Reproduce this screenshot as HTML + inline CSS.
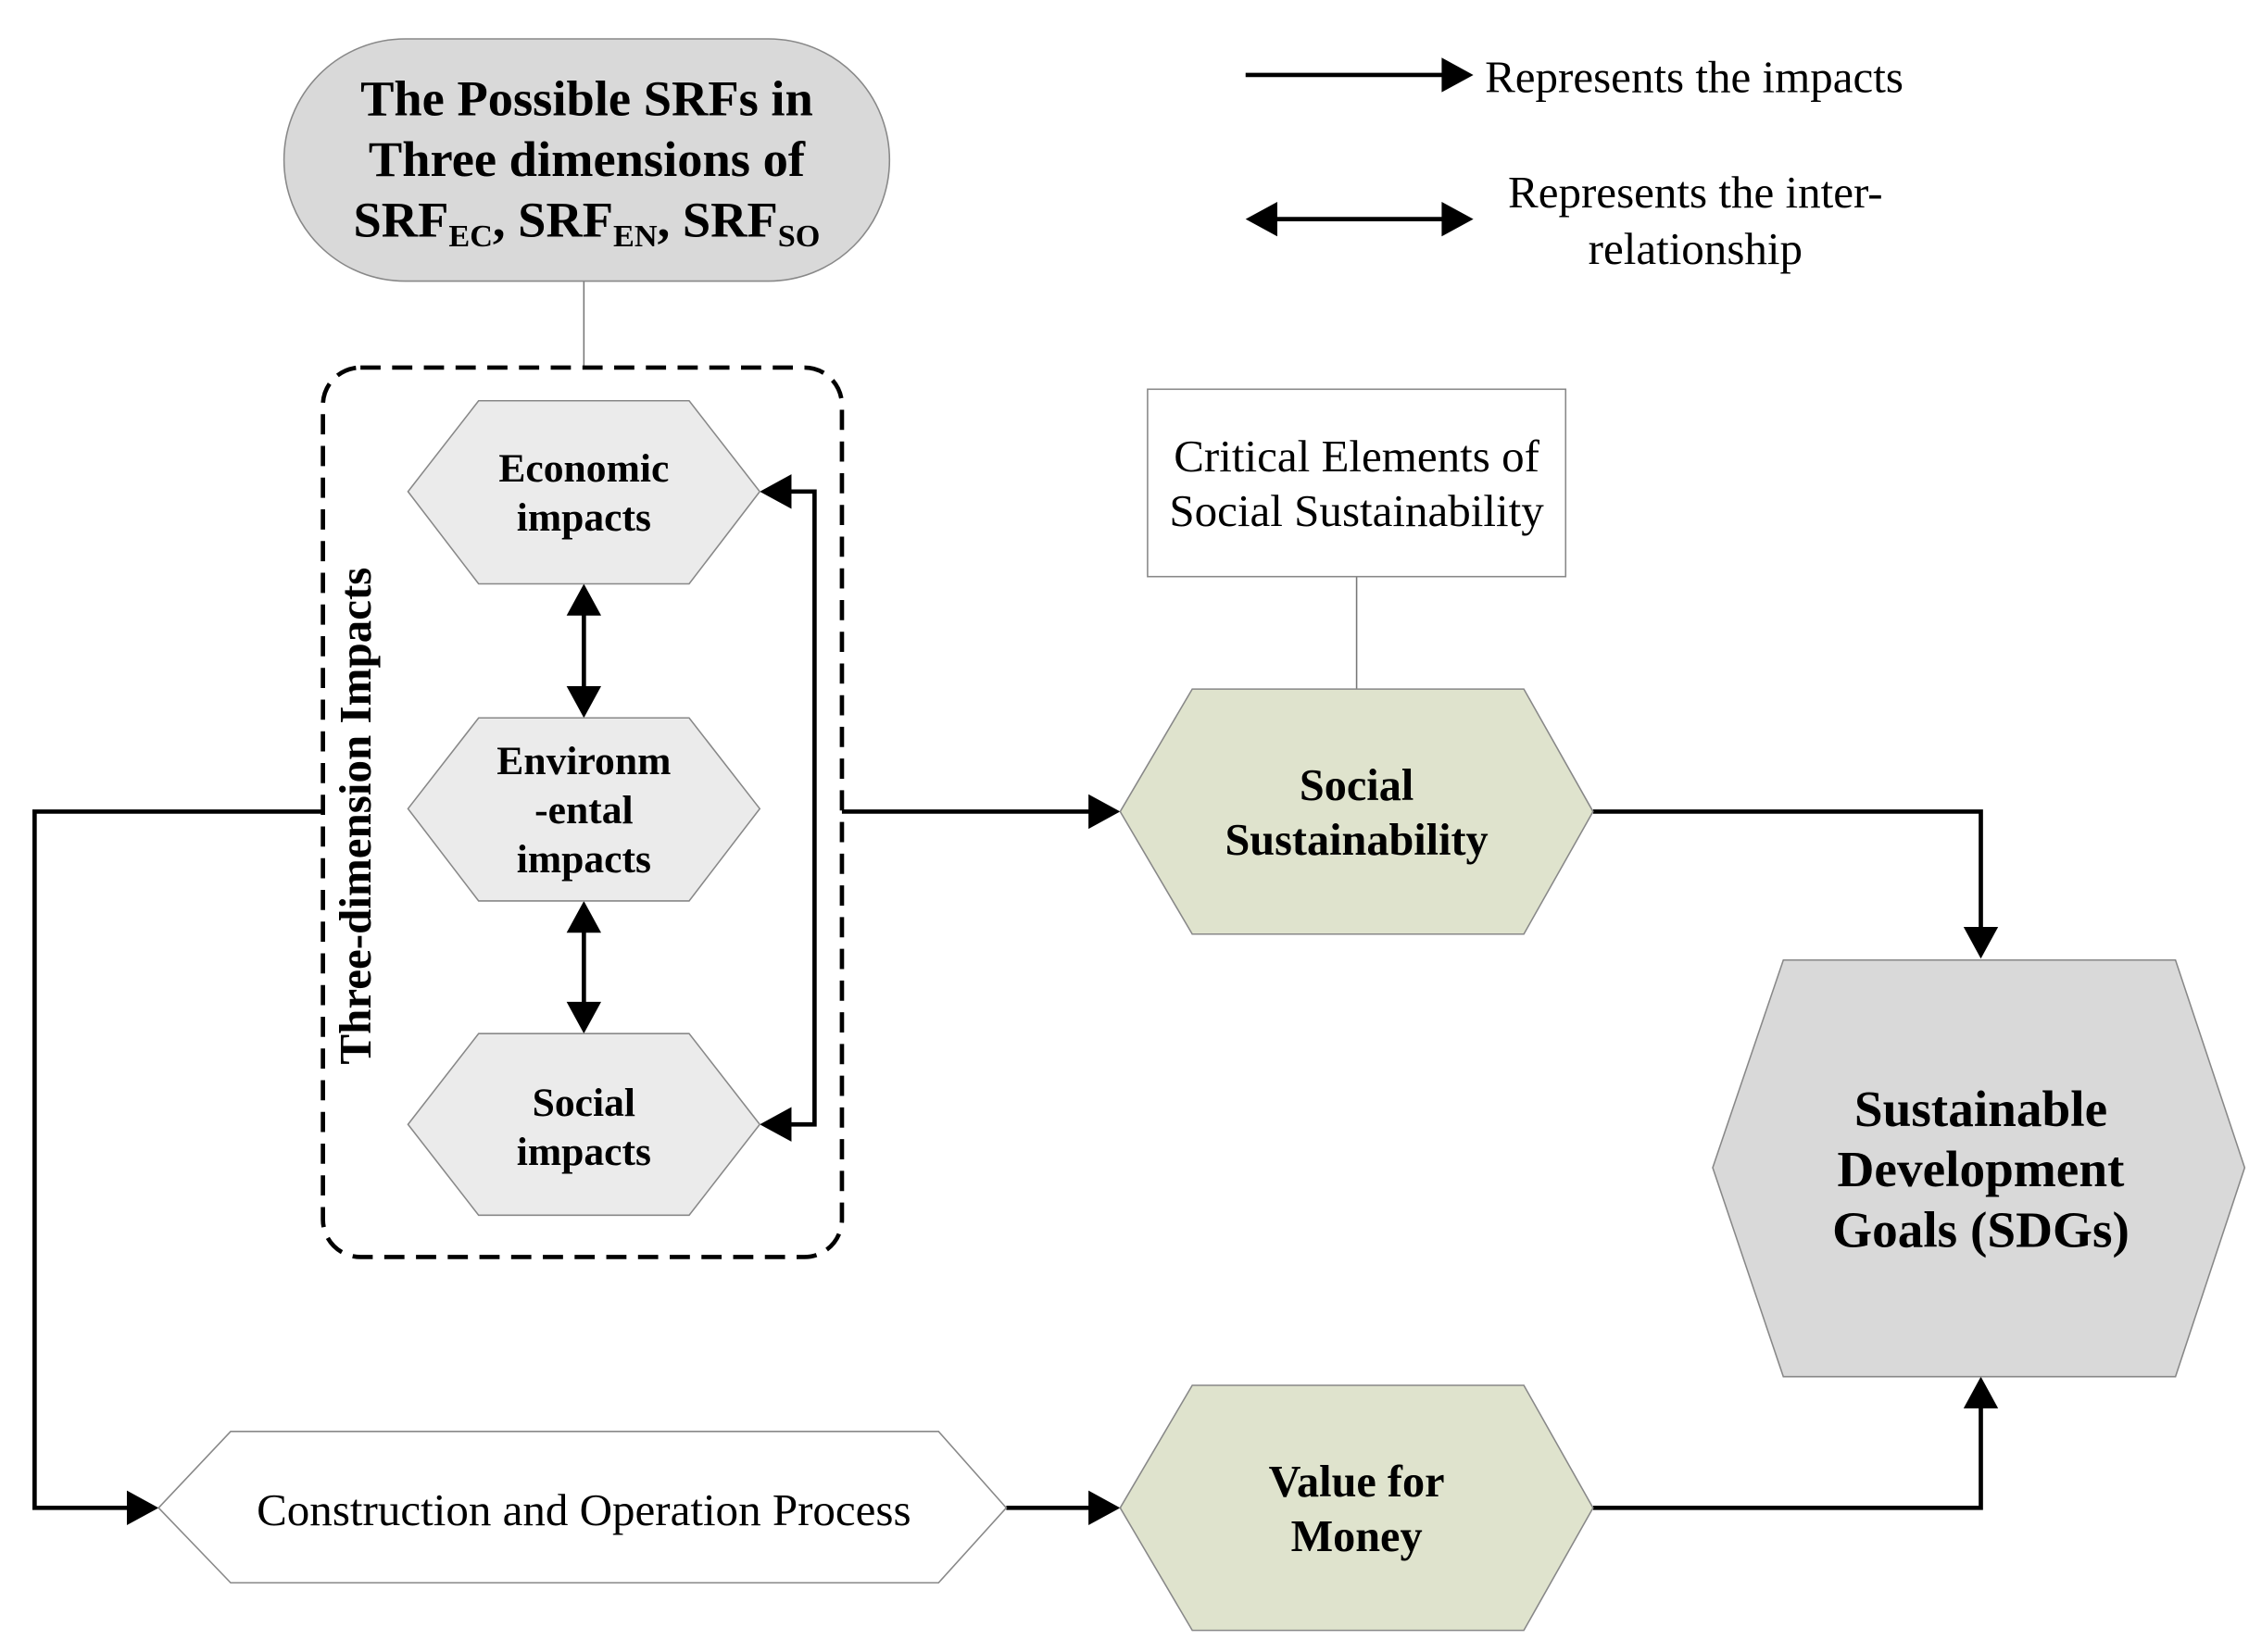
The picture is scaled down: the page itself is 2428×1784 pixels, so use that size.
<!DOCTYPE html>
<html><head><meta charset="utf-8"><style>html,body{margin:0;padding:0;background:#fff}svg{display:block}</style></head>
<body>
<svg width="2428" height="1784" viewBox="0 0 1560 1146" preserveAspectRatio="none" xmlns="http://www.w3.org/2000/svg" font-family="'Liberation Serif', serif">
<g stroke="#000" stroke-width="3" fill="none">
<line x1="405" y1="195" x2="405" y2="255" stroke="#777" stroke-width="1"/>
<line x1="941" y1="400" x2="941" y2="478" stroke="#777" stroke-width="1"/>
<polyline points="224,563 24,563 24,1046 90,1046"/>
<line x1="584" y1="563" x2="757" y2="563"/>
<polyline points="1105,563 1374,563 1374,645"/>
<line x1="698" y1="1046" x2="757" y2="1046"/>
<polyline points="1105,1046 1374,1046 1374,975"/>
<polyline points="547,341 565,341 565,780 547,780"/>
<line x1="405" y1="425" x2="405" y2="478"/>
<line x1="405" y1="645" x2="405" y2="697"/>
<line x1="864" y1="52" x2="1002" y2="52"/>
<line x1="884" y1="152" x2="1002" y2="152"/>
<rect x="224" y="255" width="360" height="617" rx="26" stroke-dasharray="14,8"/>
</g>
<g fill="#000">
<polygon points="110,1046 88,1034 88,1058"/>
<polygon points="777,563 755,551 755,575"/>
<polygon points="1374,665 1362,643 1386,643"/>
<polygon points="777,1046 755,1034 755,1058"/>
<polygon points="1374,955 1362,977 1386,977"/>
<polygon points="527,341 549,329 549,353"/>
<polygon points="527,780 549,768 549,792"/>
<polygon points="405,405 393,427 417,427"/>
<polygon points="405,498 393,476 417,476"/>
<polygon points="405,625 393,647 417,647"/>
<polygon points="405,717 393,695 417,695"/>
<polygon points="1022,52 1000,40 1000,64"/>
<polygon points="864,152 886,140 886,164"/>
<polygon points="1022,152 1000,140 1000,164"/>
</g>
<rect x="197" y="27" width="420" height="168" rx="84" fill="#d9d9d9" stroke="#888" stroke-width="1"/>
<g stroke="#888" stroke-width="1">
<polygon points="283,341 332,278 478,278 527,341 478,405 332,405" fill="#ebebeb"/>
<polygon points="283,561 332,498 478,498 527,561 478,625 332,625" fill="#ebebeb"/>
<polygon points="283,780 332,717 478,717 527,780 478,843 332,843" fill="#ebebeb"/>
<polygon points="777,563 827,478 1057,478 1105,563 1057,648 827,648" fill="#dfe3cd"/>
<polygon points="777,1046 827,961 1057,961 1105,1046 1057,1131 827,1131" fill="#dfe3cd"/>
<polygon points="1188,810 1237,666 1509,666 1557,810 1509,955 1237,955" fill="#d9d9d9"/>
<polygon points="110,1046 160,993 651,993 698,1046 651,1098 160,1098" fill="#fff"/>
<rect x="796" y="270" width="290" height="130" fill="#fff"/>
</g>
<g text-anchor="middle" font-weight="bold" fill="#000">
<text font-size="35" x="407" y="80">The Possible SRFs in</text>
<text font-size="35" x="407" y="122">Three dimensions of</text>
<text font-size="35" x="407" y="164">SRF<tspan font-size="22" dy="7">EC</tspan><tspan dy="-7">, SRF</tspan><tspan font-size="22" dy="7">EN</tspan><tspan dy="-7">, SRF</tspan><tspan font-size="22" dy="7">SO</tspan></text>
<text font-size="28" x="405" y="334">Economic</text>
<text font-size="28" x="405" y="368">impacts</text>
<text font-size="28" x="405" y="537">Environm</text>
<text font-size="28" x="405" y="571">-ental</text>
<text font-size="28" x="405" y="605">impacts</text>
<text font-size="28" x="405" y="774">Social</text>
<text font-size="28" x="405" y="808">impacts</text>
<text font-size="31" x="941" y="555">Social</text>
<text font-size="31" x="941" y="593">Sustainability</text>
<text font-size="31" x="941" y="1038">Value for</text>
<text font-size="31" x="941" y="1076">Money</text>
<text font-size="35.5" x="1374" y="781">Sustainable</text>
<text font-size="35.5" x="1374" y="823">Development</text>
<text font-size="35.5" x="1374" y="865">Goals (SDGs)</text>
<text font-size="31.5" transform="translate(257,566) rotate(-90)">Three-dimension Impacts</text>
</g>
<g text-anchor="middle" font-size="31.5" fill="#000">
<text x="941" y="327">Critical Elements of</text>
<text x="941" y="365">Social Sustainability</text>
<text x="405" y="1058">Construction and Operation Process</text>
<text x="1176" y="144">Represents the inter-</text>
<text x="1176" y="183">relationship</text>
<text x="1030" y="64" text-anchor="start">Represents the impacts</text>
</g>
</svg>
</body></html>
